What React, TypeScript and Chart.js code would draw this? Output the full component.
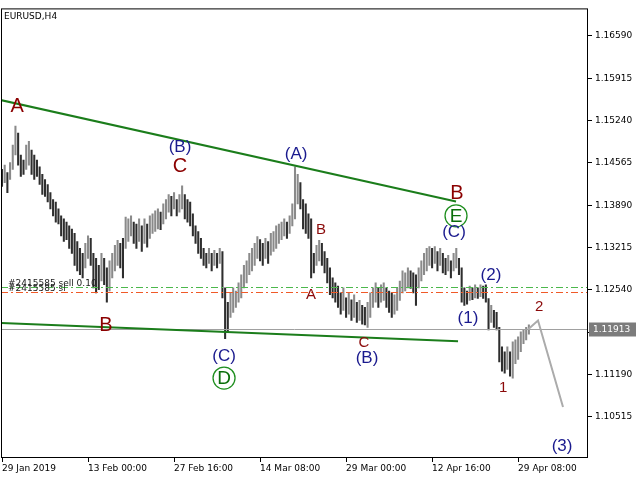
import React, { useEffect, useRef } from "react";
import { Chart, registerables } from "chart.js";

Chart.register(...registerables);

// ---------- data ----------
const SYMBOL_TITLE = "EURUSD,H4";
const PERIODS_PER_BAR = 2; // each drawn bar spans two H4 periods

const BAR_HIGHS = [
  1.1446, 1.1453, 1.1441, 1.1457, 1.1485, 1.1515, 1.1504, 1.1469, 1.1461, 1.1485,
  1.1491, 1.1477, 1.1469, 1.1461, 1.145, 1.1438, 1.143, 1.1422, 1.1409, 1.1398,
  1.1394, 1.1383, 1.1372, 1.1367, 1.1362, 1.1356, 1.1351, 1.1344, 1.1331, 1.132,
  1.1312, 1.1328, 1.134, 1.1336, 1.1312, 1.1304, 1.1293, 1.1312, 1.1304, 1.1289,
  1.13, 1.1312, 1.1325, 1.1333, 1.1328, 1.1336, 1.137, 1.1367, 1.1372, 1.1362,
  1.1359, 1.1367, 1.1356, 1.1367, 1.1359, 1.1372, 1.1375, 1.138, 1.1383, 1.1378,
  1.1391, 1.1398, 1.1406, 1.1403, 1.1409, 1.1398, 1.1406, 1.142, 1.1406, 1.1398,
  1.1394, 1.1375, 1.1356, 1.1347, 1.1336, 1.132, 1.1312, 1.132, 1.1312, 1.1317,
  1.1312, 1.132, 1.1315, 1.1257, 1.1234, 1.1249, 1.1257, 1.1252, 1.1265, 1.1278,
  1.1293, 1.13, 1.1312, 1.132, 1.1328, 1.1339, 1.1334, 1.1328, 1.1336, 1.1331,
  1.1344, 1.1347, 1.1356, 1.1359, 1.1362, 1.1367, 1.1362, 1.1372, 1.1391, 1.145,
  1.1438, 1.1425, 1.1398, 1.1391, 1.1375, 1.1367, 1.1312, 1.1325, 1.1333, 1.1328,
  1.1315, 1.1304, 1.1289, 1.1273, 1.1265, 1.126, 1.1249, 1.1257, 1.1241, 1.1249,
  1.1238, 1.1246, 1.1234, 1.1237, 1.1229, 1.1226, 1.1234, 1.1249, 1.1257, 1.1265,
  1.1257, 1.1262, 1.1265, 1.1257, 1.1252, 1.1249, 1.1246, 1.1257, 1.1268, 1.1284,
  1.1281, 1.1289, 1.1284, 1.1281, 1.1278, 1.1289, 1.13, 1.1312, 1.132, 1.1323,
  1.132, 1.1323, 1.1315, 1.132, 1.1312, 1.1304, 1.1309, 1.13, 1.1312, 1.132,
  1.1304, 1.1289, 1.1257, 1.1252, 1.126, 1.1257, 1.1262, 1.1257, 1.1262, 1.126,
  1.1262, 1.124, 1.1229, 1.1221, 1.1218, 1.1194, 1.1163, 1.1155, 1.1163, 1.1155,
  1.1171, 1.1174, 1.1179, 1.1187, 1.1191, 1.1194, 1.1198,
];

const BAR_LOWS = [
  1.1419, 1.1425, 1.1409, 1.143, 1.1446, 1.1469, 1.1453, 1.1435, 1.1438, 1.1446,
  1.1453, 1.1438, 1.143, 1.1435, 1.1422, 1.1406, 1.1403, 1.1394, 1.1383, 1.1372,
  1.1362, 1.1359, 1.134, 1.1331, 1.1334, 1.132, 1.1312, 1.1293, 1.1284, 1.1278,
  1.1273, 1.1289, 1.1304, 1.1293, 1.1257, 1.1249, 1.1254, 1.1268, 1.1262, 1.1234,
  1.1252, 1.1273, 1.1284, 1.1293, 1.1289, 1.1273, 1.132, 1.1331, 1.134, 1.1328,
  1.132, 1.1331, 1.1315, 1.1328, 1.1322, 1.1336, 1.1344, 1.1347, 1.1351, 1.135,
  1.1359, 1.1367, 1.1378, 1.1372, 1.1383, 1.1372, 1.1378, 1.1383, 1.1367, 1.1362,
  1.1356, 1.134, 1.1328, 1.1312, 1.1304, 1.1293, 1.1289, 1.1296, 1.1284, 1.1293,
  1.1289, 1.1296, 1.1241, 1.1176, 1.1187, 1.121, 1.1218, 1.1226, 1.1234, 1.1241,
  1.1257, 1.1265, 1.1278, 1.1284, 1.1293, 1.1304, 1.13, 1.1293, 1.1304, 1.1296,
  1.1309, 1.1315, 1.132, 1.1328, 1.1334, 1.134, 1.1336, 1.1344, 1.1356, 1.1367,
  1.1391, 1.1383, 1.1351, 1.1344, 1.1336, 1.1273, 1.1281, 1.1293, 1.13, 1.1293,
  1.1281, 1.1265, 1.1246, 1.1241, 1.1234, 1.1226, 1.1215, 1.1221, 1.121, 1.1215,
  1.1205, 1.121, 1.1202, 1.1205, 1.1199, 1.1198, 1.1194, 1.121, 1.1226, 1.1234,
  1.1226, 1.1234, 1.1237, 1.1226, 1.1218, 1.121, 1.1215, 1.1221, 1.1237, 1.1249,
  1.1252, 1.1257, 1.1256, 1.1249, 1.1229, 1.1257, 1.1268, 1.1278, 1.1284, 1.1293,
  1.1289, 1.1296, 1.1284, 1.1293, 1.1281, 1.1278, 1.1284, 1.1273, 1.1284, 1.1289,
  1.1278, 1.1234, 1.1229, 1.1231, 1.1237, 1.1238, 1.1241, 1.124, 1.1243, 1.124,
  1.1234, 1.119, 1.1202, 1.1194, 1.119, 1.1139, 1.1124, 1.1121, 1.1127, 1.1116,
  1.1113, 1.1136, 1.1143, 1.1155, 1.1168, 1.1174, 1.1183,
];

const TIME_TICK_POS = [0, 64, 128, 192, 256, 320, 384];
const TIME_TICK_LABELS = [
  "29 Jan 2019",
  "13 Feb 00:00",
  "27 Feb 16:00",
  "14 Mar 08:00",
  "29 Mar 00:00",
  "12 Apr 16:00",
  "29 Apr 08:00",
];
const TIME_MIN = -0.75;
const TIME_MAX = 436;

const PRICE_TICKS = [
  1.10515, 1.1119, 1.11865, 1.1254, 1.13215, 1.1389, 1.14565, 1.1524, 1.15915, 1.1659,
];
const PRICE_MIN = 1.09855;
const PRICE_MAX = 1.1703;

const BID_PRICE = 1.11913;
const ORDER_PRICE = 1.1259;
const SL_PRICE = 1.1251;
const ORDER_TEXT = "#2415585 sell 0.10";
const SL_TEXT = "#2415585 sl";

// trend lines: [time, price] pairs
const UPPER_TREND_TIME = [-1.5, 337.8];
const UPPER_TREND_PRICE = [1.1557, 1.1395];
const LOWER_TREND_TIME = [-0.5, 339.3];
const LOWER_TREND_PRICE = [1.1201, 1.1172];

// projected path
const PROJ_TIME = [391.5, 398.8, 417.4];
const PROJ_PRICE = [1.1191, 1.1205, 1.1067];

// wave labels
const WAVE_TEXT = ["A", "(B)", "C", "(A)", "B", "A", "B", "(C)", "D", "C", "(B)", "B", "E", "(C)", "(2)", "(1)", "2", "1", "(3)"];
const WAVE_TIME = [11.2, 132.4, 132.4, 218.8, 237.4, 229.9, 77.4, 165.2, 165.2, 269.3, 271.6, 338.5, 337.8, 336.3, 363.8, 346.7, 399.6, 372.8, 416.7];
const WAVE_PRICE = [1.1548, 1.1483, 1.1452, 1.1472, 1.1351, 1.1248, 1.1198, 1.115, 1.1113, 1.1171, 1.1146, 1.1409, 1.1372, 1.1347, 1.1279, 1.121, 1.1229, 1.1099, 1.1006];
const WAVE_DEGREE = ["major", "paren", "major", "paren", "minor", "minor", "major", "paren", "circle", "minor", "paren", "major", "circle", "paren", "paren", "paren", "minor", "minor", "paren"];

// ---------- styles ----------
const AXIS_FONT = "DejaVu Sans";
const DEGREE_STYLE: Record<string, { color: string; font: string }> = {
  major: { color: "#8b0000", font: '20px "Liberation Sans"' },
  minor: { color: "#8b0a0a", font: '15px "Liberation Sans"' },
  paren: { color: "#1a1a8e", font: '17px "Liberation Sans"' },
  circle: { color: "#0a6e0a", font: '19px "Liberation Sans"' },
};

const overlayPlugin = {
  id: "overlay",
  afterDatasetsDraw(chart: any) {
    const { ctx, chartArea: ca } = chart;
    const x = chart.scales.x;
    const y = chart.scales.y;
    const px = (t: number) => x.getPixelForValue(t);
    const py = (p: number) => y.getPixelForValue(p);
    ctx.save();
    ctx.beginPath();
    ctx.rect(ca.left, ca.top, ca.right - ca.left, ca.bottom - ca.top);
    ctx.clip();

    // bid line
    const by = Math.round(py(BID_PRICE)) + 0.5;
    ctx.strokeStyle = "#a0a0a0";
    ctx.lineWidth = 1;
    ctx.beginPath();
    ctx.moveTo(ca.left, by);
    ctx.lineTo(ca.right, by);
    ctx.stroke();

    // order / sl lines
    ctx.setLineDash([7, 3, 2, 3]);
    const oy = Math.round(py(ORDER_PRICE)) + 0.5;
    const sy = Math.round(py(SL_PRICE)) + 0.5;
    ctx.strokeStyle = "#4cb84c";
    ctx.beginPath();
    ctx.moveTo(ca.left, oy);
    ctx.lineTo(ca.right, oy);
    ctx.stroke();
    ctx.strokeStyle = "#f05a28";
    ctx.beginPath();
    ctx.moveTo(ca.left, sy);
    ctx.lineTo(ca.right, sy);
    ctx.stroke();
    ctx.setLineDash([]);

    ctx.fillStyle = "#222";
    ctx.font = `9px "${AXIS_FONT}"`;
    ctx.textAlign = "left";
    ctx.textBaseline = "alphabetic";
    ctx.fillText(ORDER_TEXT, 8, oy - 2);
    ctx.fillText(SL_TEXT, 8, sy - 2);

    // trend lines
    ctx.strokeStyle = "#1b7d1b";
    ctx.lineWidth = 2;
    ctx.beginPath();
    ctx.moveTo(px(UPPER_TREND_TIME[0]), py(UPPER_TREND_PRICE[0]));
    ctx.lineTo(px(UPPER_TREND_TIME[1]), py(UPPER_TREND_PRICE[1]));
    ctx.stroke();
    ctx.beginPath();
    ctx.moveTo(px(LOWER_TREND_TIME[0]), py(LOWER_TREND_PRICE[0]));
    ctx.lineTo(px(LOWER_TREND_TIME[1]), py(LOWER_TREND_PRICE[1]));
    ctx.stroke();

    // projection
    ctx.strokeStyle = "#ababab";
    ctx.lineWidth = 2;
    ctx.beginPath();
    PROJ_TIME.forEach((t, i) => {
      if (i === 0) ctx.moveTo(px(t), py(PROJ_PRICE[i]));
      else ctx.lineTo(px(t), py(PROJ_PRICE[i]));
    });
    ctx.stroke();

    // wave labels
    ctx.textAlign = "center";
    ctx.textBaseline = "middle";
    WAVE_TEXT.forEach((txt, i) => {
      const st = DEGREE_STYLE[WAVE_DEGREE[i]];
      const cx = px(WAVE_TIME[i]);
      const cy = py(WAVE_PRICE[i]);
      if (WAVE_DEGREE[i] === "circle") {
        ctx.strokeStyle = "#1f8f1f";
        ctx.lineWidth = 1.3;
        ctx.beginPath();
        ctx.arc(cx, cy, 11, 0, Math.PI * 2);
        ctx.stroke();
      }
      ctx.fillStyle = st.color;
      ctx.font = st.font;
      ctx.fillText(txt, cx, cy + 1);
    });

    ctx.restore();
  },
  afterDraw(chart: any) {
    const { ctx, chartArea: ca } = chart;
    const y = chart.scales.y;
    ctx.save();
    // frame
    ctx.strokeStyle = "#000";
    ctx.lineWidth = 1;
    ctx.strokeRect(ca.left + 0.5, ca.top + 0.5, ca.right - ca.left - 1, ca.bottom - ca.top - 1);

    // title
    ctx.fillStyle = "#000";
    ctx.font = `9px "${AXIS_FONT}"`;
    ctx.textAlign = "left";
    ctx.textBaseline = "middle";
    ctx.fillText(SYMBOL_TITLE, ca.left + 3, ca.top + 8);

    // bid price box
    const by = Math.round(y.getPixelForValue(BID_PRICE)) + 0.5;
    ctx.fillStyle = "#7c7c7c";
    ctx.fillRect(ca.right + 1, by - 7, 47, 14);
    ctx.fillStyle = "#fff";
    ctx.fillText(BID_PRICE.toFixed(5), ca.right + 5, by + 0.5);
    ctx.restore();
  },
};

export default function App() {
  const ref = useRef<HTMLCanvasElement>(null);
  useEffect(() => {
    const data = BAR_HIGHS.map((h, i) => ({ x: i * PERIODS_PER_BAR, y: [BAR_LOWS[i], h] }));
    const colors = BAR_HIGHS.map((h, i) => {
      if (i === 0) return "#2e2e2e";
      const mid = (h + BAR_LOWS[i]) / 2;
      const prev = (BAR_HIGHS[i - 1] + BAR_LOWS[i - 1]) / 2;
      return mid >= prev ? "#8a8a8a" : "#2e2e2e";
    });
    const chart = new Chart(ref.current as HTMLCanvasElement, {
      type: "bar",
      data: {
        datasets: [
          {
            data: data as any,
            backgroundColor: colors,
            borderWidth: 0,
            barThickness: 1.4,
          },
        ],
      },
      plugins: [overlayPlugin],
      options: {
        responsive: false,
        animation: false,
        events: [],
        layout: { padding: { left: 1, top: 1, right: 0, bottom: 0 } },
        plugins: { legend: { display: false }, tooltip: { enabled: false } },
        scales: {
          x: {
            type: "linear",
            min: TIME_MIN,
            max: TIME_MAX,
            offset: false,
            position: "bottom",
            afterBuildTicks: (s: any) => {
              s.ticks = TIME_TICK_POS.map((v) => ({ value: v }));
            },
            afterFit: (s: any) => {
              s.height = 20;
            },
            grid: { drawOnChartArea: false, drawTicks: true, tickLength: 4, color: "#000", offset: false },
            border: { display: false },
            ticks: {
              autoSkip: false,
              maxRotation: 0,
              minRotation: 0,
              align: "start",
              padding: 1,
              color: "#000",
              font: { family: AXIS_FONT, size: 9 },
              callback: (_v: any, i: number) => TIME_TICK_LABELS[i] ?? "",
            },
          },
          y: {
            type: "linear",
            position: "right",
            min: PRICE_MIN,
            max: PRICE_MAX,
            afterBuildTicks: (s: any) => {
              s.ticks = PRICE_TICKS.map((v) => ({ value: v }));
            },
            afterFit: (s: any) => {
              s.width = 52;
            },
            grid: { drawOnChartArea: false, drawTicks: true, tickLength: 4, color: "#000" },
            border: { display: false },
            ticks: {
              padding: 3,
              color: "#000",
              font: { family: AXIS_FONT, size: 9 },
              callback: (v: any) => Number(v).toFixed(5),
            },
          },
        },
      } as any,
    });
    return () => chart.destroy();
  }, []);
  return (
    <div style={{ position: "fixed", left: 0, top: 0, width: 640, height: 478, background: "#fff" }}>
      <canvas ref={ref} width={640} height={478} style={{ display: "block", width: 640, height: 478 }} />
    </div>
  );
}
